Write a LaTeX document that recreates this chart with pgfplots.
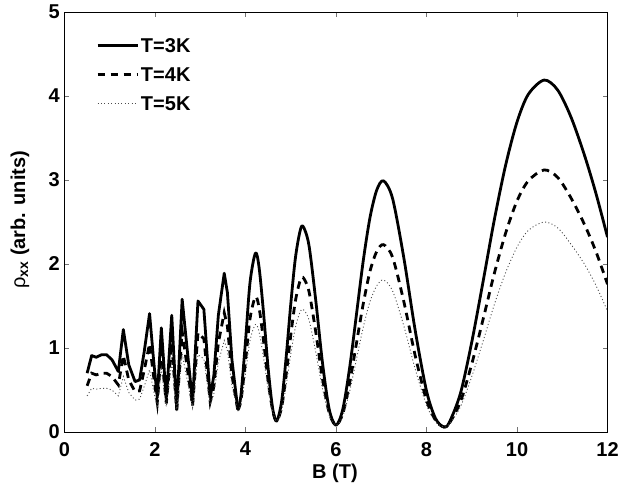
\documentclass[border=0pt]{standalone}
\usepackage{fontspec}
\setmainfont{Liberation Sans}
\usepackage{pgfplots}
\usepackage{pgfplotstable}
\pgfplotsset{compat=1.18}

\newcommand\figfont{\fontsize{20bp}{23bp}\selectfont\bfseries}

% B(T)  T=3K  T=4K  T=5K  -- low field, straight segments
\pgfplotstableread{
B     s     d     t
0.50  0.70  0.55  0.43
0.60  0.91  0.70  0.52
0.70  0.89  0.68  0.51
0.82  0.92  0.70  0.52
0.93  0.92  0.70  0.52
1.05  0.86  0.66  0.50
1.19  0.72  0.56  0.43
1.30  1.22  0.91  0.66
1.42  0.80  0.62  0.47
1.56  0.60  0.48  0.38
1.66  0.62  0.49  0.39
1.76  0.95  0.73  0.54
1.88  1.41  1.05  0.74
1.97  0.85  0.66  0.49
2.05  0.41  0.35  0.29
2.14  1.24  0.95  0.75
2.25  0.38  0.34  0.30
2.37  1.39  1.06  0.83
2.48  0.27  0.26  0.25
2.60  1.58  1.20  0.93
2.83  0.35  0.31  0.29
2.95  1.56  1.18  0.92
3.08  1.46  1.11  0.87
3.22  0.41  0.36  0.32
3.30  0.67  0.54  0.45
3.40  1.39  1.06  0.83
3.53  1.89  1.42  1.09
3.60  1.66  1.26  0.97
3.70  0.86  0.68  0.55
3.83  0.27  0.26  0.25
}\lowfield

% high field, drawn smooth
\pgfplotstableread{
B     s     d     t
3.83  0.27  0.26  0.25
3.90  0.44  0.38  0.33
4.00  1.08  0.84  0.69
4.10  1.78  1.35  1.09
4.22  2.13  1.61  1.28
4.30  1.96  1.48  1.19
4.40  1.41  1.08  0.88
4.50  0.76  0.61  0.51
4.60  0.28  0.26  0.245
4.69  0.13  0.13  0.13
4.80  0.37  0.30  0.26
4.90  0.90  0.69  0.56
5.00  1.52  1.15  0.92
5.10  2.06  1.55  1.24
5.20  2.38  1.79  1.42
5.27  2.45  1.84  1.46
5.40  2.23  1.68  1.34
5.55  1.58  1.20  0.96
5.70  0.83  0.64  0.52
5.85  0.27  0.23  0.20
6.00  0.08  0.08  0.08
6.15  0.27  0.22  0.19
6.30  0.76  0.58  0.48
6.45  1.39  1.05  0.86
6.60  2.03  1.52  1.24
6.75  2.55  1.91  1.55
6.90  2.88  2.15  1.74
7.05  2.99  2.23  1.81
7.25  2.78  2.08  1.68
7.50  2.07  1.55  1.26
7.75  1.21  0.91  0.75
8.00  0.49  0.38  0.32
8.20  0.16  0.14  0.12
8.38  0.06  0.06  0.06
8.50  0.11  0.10  0.09
8.75  0.46  0.36  0.30
9.00  1.07  0.81  0.66
9.25  1.79  1.34  1.08
9.50  2.53  1.89  1.52
9.75  3.18  2.37  1.90
10.00 3.69  2.75  2.20
10.25 4.02  2.99  2.40
10.60 4.19  3.12  2.50
10.90 4.07  3.03  2.43
11.20 3.74  2.78  2.23
11.50 3.28  2.46  1.99
11.75 2.83  2.14  1.74
12.00 2.32  1.76  1.44
}\highfield

\begin{document}
\begin{tikzpicture}
\begin{axis}[
    scale only axis,
    width=543bp, height=420bp,
    xmin=0, xmax=12, ymin=0, ymax=5,
    xtick={0,2,...,12}, ytick={0,1,...,5},
    tick align=inside,
    major tick length=5bp,
    axis line style={line width=0.9bp},
    tick style={line width=0.7bp, black!55},
    /pgf/number format/assume math mode=true,
    every tick label/.append style={font=\figfont, inner sep=0pt},
    xticklabel style={yshift=-10bp},
    yticklabel style={xshift=-4.5bp},
    xlabel={B (T)},
    ylabel={{\mdseries ρ}\textsubscript{xx} (arb. units)},
    xlabel style={at={(axis description cs:0.498,-0.098)}, anchor=center, font=\figfont},
    ylabel style={at={(axis description cs:-0.082,0.505)}, anchor=center, font=\figfont},
    legend cell align=left,
    legend image code/.code={\draw[#1] (0bp,0bp) -- (40bp,0bp);},
    legend style={draw=none, fill=none,
        at={(axis description cs:0.058,0.938)}, anchor=north west,
        inner sep=0pt, row sep=14.5bp, font=\figfont,
        nodes={inner ysep=0pt, inner xsep=2bp, text height=14.3bp, text depth=0pt}},
    solid3/.style={black, line width=2.8bp, line join=round},
    dash4/.style={black, line width=2.8bp, dash pattern=on 7.5bp off 5.5bp},
    dot5/.style={black!70, line width=0.9bp, dash pattern=on 1bp off 2.4bp},
]
\addplot[solid3] table[x=B, y=s] {\lowfield};
\addlegendentry{T=3K}
\addplot[dash4] table[x=B, y=d] {\lowfield};
\addlegendentry{T=4K}
\addplot[dot5] table[x=B, y=t] {\lowfield};
\addlegendentry{T=5K}

\addplot[solid3, smooth, forget plot] table[x=B, y=s] {\highfield};
\addplot[dash4, smooth, forget plot] table[x=B, y=d] {\highfield};
\addplot[dot5, smooth, forget plot] table[x=B, y=t] {\highfield};
\end{axis}
\pgfresetboundingbox
\path (-64.5bp,-52bp) rectangle (553.5bp,432bp);
\end{tikzpicture}
\end{document}
